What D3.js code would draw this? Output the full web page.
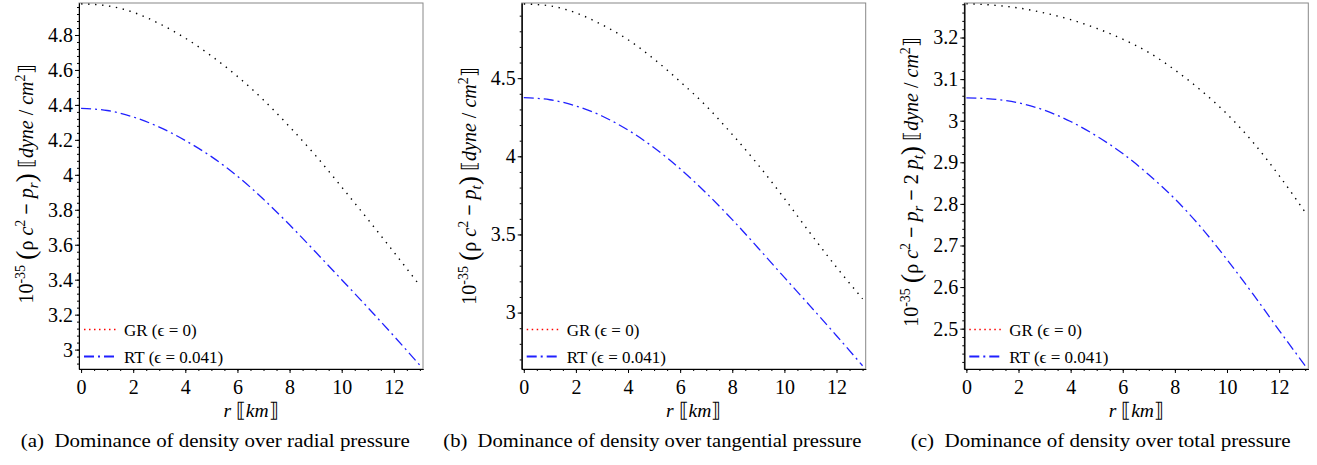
<!DOCTYPE html>
<html lang="en">
<head>
<meta charset="UTF-8">
<title>Dominance of density over pressure</title>
<script src="https://d3js.org/d3.v7.min.js"></script>
<style>
    body { margin: 0; background: #fff; }
    svg { display: block; font-family: "Liberation Serif", "Times New Roman", serif; }
    .axis text { font-size: 20px; fill: #000; font-family: "Liberation Serif", serif; }
    .axis path, .axis line { stroke: #000; stroke-width: 1; }
    .frame { fill: none; stroke: #888; stroke-width: 1; }
    .gr { fill: none; stroke: #000; stroke-width: 1.4; stroke-dasharray: 1.4 5.6; stroke-linecap: butt; }
    .rt { fill: none; stroke: #2020ff; stroke-width: 1.3; stroke-dasharray: 10 4 2 4; }
    .legend text { font-size: 17px; }
    .caption { font-size: 19.5px; }
</style>
</head>
<body>
<div id="chart"></div>
<script>
// radius in km
const radius = [0, 1, 2, 3, 4, 5, 6, 7, 8, 9, 10, 11, 12, 13];

// (a) rho c^2 - p_r
const grRadial = [4.978, 4.967, 4.930, 4.865, 4.782, 4.680, 4.563, 4.428, 4.275, 4.110, 3.930, 3.746, 3.558, 3.366];
const rtRadial = [4.380, 4.368, 4.331, 4.273, 4.196, 4.104, 3.992, 3.860, 3.714, 3.558, 3.400, 3.241, 3.078, 2.910];
// (b) rho c^2 - p_t
const grTangential = [4.975, 4.963, 4.918, 4.842, 4.746, 4.622, 4.478, 4.322, 4.140, 3.944, 3.730, 3.506, 3.290, 3.088];
const rtTangential = [4.375, 4.362, 4.322, 4.258, 4.168, 4.055, 3.920, 3.765, 3.595, 3.412, 3.225, 3.040, 2.852, 2.660];
// (c) rho c^2 - p_r - 2 p_t
const grTotal = [3.281, 3.278, 3.271, 3.259, 3.243, 3.222, 3.196, 3.164, 3.122, 3.073, 3.016, 2.948, 2.868, 2.780];
const rtTotal = [3.055, 3.052, 3.043, 3.025, 2.998, 2.963, 2.921, 2.870, 2.812, 2.744, 2.666, 2.583, 2.496, 2.411];

const xTicks = [0, 2, 4, 6, 8, 10, 12];
const yTicksRadial = [3, 3.2, 3.4, 3.6, 3.8, 4, 4.2, 4.4, 4.6, 4.8];
const yTicksTangential = [3, 3.5, 4, 4.5];
const yTicksTotal = [2.5, 2.6, 2.7, 2.8, 2.9, 3, 3.1, 3.2];

const legendLabels = ["GR (ϵ = 0)", "RT (ϵ = 0.041)"];
const captions = [
    "(a)\u00a0\u00a0Dominance of density over radial pressure",
    "(b)\u00a0\u00a0Dominance of density over tangential pressure",
    "(c)\u00a0\u00a0Dominance of density over total pressure"
];

const W = 1317, H = 465;
const plotW = 344, plotTop = 3, plotBottom = 369;

const svg = d3.select("#chart").append("svg")
    .attr("width", W)
    .attr("height", H);

// y label pieces: t = text, s = style
const labelStart = [
    { t: "10" }, { t: "-35", s: "sup" }, { t: " " }, { t: "(", s: "big" }, { t: "ρ" },
    { t: " c", s: "i" }, { t: "2", s: "sup" }, { t: " − ", s: "b" }, { t: "p", s: "i" }, { t: "r", s: "sub" }
];
const labelEnd = [
    { t: ")", s: "big" }, { t: " " }, { t: "⟦" }, { t: "dyne", s: "i" }, { t: " / " },
    { t: "cm", s: "i" }, { t: "2", s: "sup" }, { t: "⟧" }
];

const panels = [
    { left: 79, gr: grRadial, rt: rtRadial, yDomain: [2.889, 4.983], yTicks: yTicksRadial, minor: 0.04,
      label: labelStart.concat(labelEnd), capX: 20.7, capW: 389, labelY: 184 },
    { left: 521.7, gr: grTangential, rt: rtTangential, yDomain: [2.639, 4.981], yTicks: yTicksTangential, minor: 0.1,
      label: labelStart.slice(0, 9).concat([{ t: "t", s: "sub" }], labelEnd), capX: 443.3, capW: 418, labelY: 186 },
    { left: 964.3, gr: grTotal, rt: rtTotal, yDomain: [2.403, 3.283], yTicks: yTicksTotal, minor: 0.02,
      label: labelStart.concat([{ t: " − ", s: "b" }, { t: "2 " }, { t: "p", s: "i" }, { t: "t", s: "sub" }], labelEnd),
      capX: 910.7, capW: 380, labelY: 182 }
];

function minorTicks(domain, step) {
    const first = Math.ceil(domain[0] / step - 1e-6);
    const last = Math.floor(domain[1] / step + 1e-6);
    return d3.range(first, last + 1).map(k => +(k * step).toFixed(4));
}

panels.forEach((p, idx) => {
    const g = svg.append("g").attr("transform", `translate(${p.left},0)`);

    const x = d3.scaleLinear().domain([-0.08, 13.12]).range([0, plotW]);
    const y = d3.scaleLinear().domain(p.yDomain).range([plotBottom, plotTop]);

    // frame
    g.append("rect").attr("class", "frame")
        .attr("x", 0).attr("y", plotTop)
        .attr("width", plotW).attr("height", plotBottom - plotTop);

    // minor ticks
    g.append("g").attr("class", "axis")
        .call(d3.axisLeft(y).tickValues(minorTicks(p.yDomain, p.minor)).tickSize(2).tickSizeOuter(0).tickFormat(""));
    g.append("g").attr("class", "axis")
        .attr("transform", `translate(0,${plotBottom})`)
        .call(d3.axisBottom(x).tickValues(minorTicks([0, 13], 0.5)).tickSize(2).tickSizeOuter(0).tickFormat(""));

    // major ticks + labels
    g.append("g").attr("class", "axis")
        .call(d3.axisLeft(y).tickValues(p.yTicks).tickSize(4).tickSizeOuter(0).tickPadding(2)
            .tickFormat(d3.format("~g")));
    g.append("g").attr("class", "axis")
        .attr("transform", `translate(0,${plotBottom})`)
        .call(d3.axisBottom(x).tickValues(xTicks).tickSize(4).tickSizeOuter(0).tickPadding(7)
            .tickFormat(d3.format("d")));

    // curves
    const line = d3.line()
        .x((d, i) => x(radius[i]))
        .y(d => y(d))
        .curve(d3.curveMonotoneX);

    g.append("path").datum(p.gr).attr("class", "gr").attr("d", line);
    g.append("path").datum(p.rt).attr("class", "rt").attr("d", line);

    // legend
    const lg = g.append("g").attr("class", "legend");
    [[329.5, "#ff0000", "1.5 3.5"], [356.5, "#2020ff", "10 4 2 4"]].forEach(([ly, col, dash], i) => {
        lg.append("line")
            .attr("x1", 5).attr("x2", 39).attr("y1", ly).attr("y2", ly)
            .attr("stroke", col).attr("stroke-width", i === 0 ? 1.5 : 2)
            .attr("stroke-dasharray", dash);
        lg.append("text")
            .attr("x", 45).attr("y", ly + 6)
            .text(legendLabels[i]);
    });

    // x label
    const xl = g.append("text")
        .attr("x", plotW / 2).attr("y", 417)
        .attr("text-anchor", "middle")
        .style("font-size", "19.5px");
    xl.append("tspan").style("font-style", "italic").text("r ");
    xl.append("tspan").text("⟦");
    xl.append("tspan").style("font-style", "italic").text("km");
    xl.append("tspan").text("⟧");

    // y label
    const yl = g.append("text")
        .attr("transform", `translate(-46,${p.labelY}) rotate(-90)`)
        .attr("text-anchor", "middle")
        .style("font-size", "20px");
    let shift = 0;
    p.label.forEach(seg => {
        const want = seg.s === "sup" ? -8 : seg.s === "sub" ? 5 : seg.s === "big" ? 2 : 0;
        const ts = yl.append("tspan").attr("dy", want - shift).text(seg.t);
        shift = want;
        if (seg.s === "sup") ts.style("font-size", "14px");
        if (seg.s === "sub") ts.style("font-size", "15px").style("font-style", "italic");
        if (seg.s === "i") ts.style("font-style", "italic");
        if (seg.s === "b") ts.style("font-weight", "bold");
        if (seg.s === "big") ts.style("font-size", "28px");
    });

    // caption
    svg.append("text")
        .attr("class", "caption")
        .attr("x", p.capX).attr("y", 447)
        .attr("textLength", p.capW)
        .attr("lengthAdjust", "spacingAndGlyphs")
        .text(captions[idx]);
});
</script>
</body>
</html>
